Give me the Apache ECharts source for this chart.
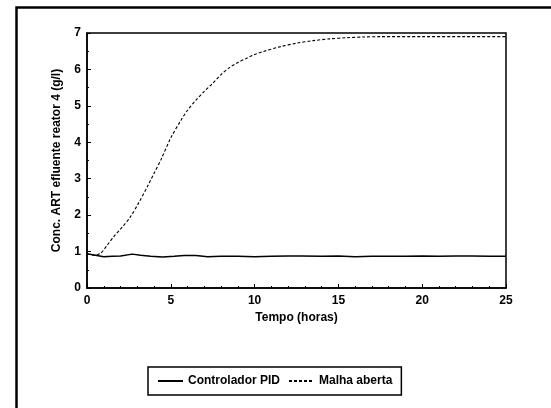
<!DOCTYPE html>
<html>
<head>
<meta charset="utf-8">
<script src="https://cdn.jsdelivr.net/npm/echarts@6/dist/echarts.min.js"></script>
<style>
  html, body { margin: 0; padding: 0; background: #fff; }
  #chart { width: 551px; height: 408px; }
</style>
</head>
<body>
<div id="chart"></div>
<script>
// Time (hours) and effluent ART concentration of reactor 4 (g/l)
const tempoPID = [0, 0.5, 1, 1.5, 2, 2.7, 3.2, 3.8, 4.5, 5.2, 5.8, 6.5, 7.2, 8, 9, 10, 11, 12, 12.8, 14, 15, 16, 17, 18, 19, 20, 21, 22, 23, 24, 25];
const controladorPID = [0.94, 0.9, 0.86, 0.87, 0.88, 0.93, 0.9, 0.87, 0.85, 0.87, 0.89, 0.89, 0.86, 0.87, 0.87, 0.86, 0.87, 0.88, 0.88, 0.87, 0.88, 0.86, 0.87, 0.87, 0.87, 0.88, 0.87, 0.88, 0.88, 0.87, 0.87];

const tempoMA = [0, 0.4, 0.8, 1.2, 1.6, 2.1, 2.6, 3.1, 3.6, 4.0, 4.4, 5.0, 5.6, 6.0, 6.5, 7.0, 7.5, 8.0, 8.5, 9.0, 9.5, 10.0, 10.5, 11.5, 12.5, 13.5, 14.5, 15.5, 16.5, 17.5, 20, 22.5, 25];
const malhaAberta = [0.94, 0.9, 0.95, 1.17, 1.41, 1.67, 1.96, 2.35, 2.78, 3.15, 3.51, 4.12, 4.6, 4.88, 5.16, 5.4, 5.62, 5.86, 6.05, 6.19, 6.3, 6.41, 6.49, 6.62, 6.72, 6.79, 6.84, 6.87, 6.89, 6.9, 6.9, 6.9, 6.9];

const xTicks = { min: 0, max: 25, step: 5 };
const yTicks = { min: 0, max: 7, step: 1 };

const pairs = (xs, ys) => xs.map((x, i) => [x, ys[i]]);

const font = '"Liberation Sans", Arial, sans-serif';
const chart = echarts.init(document.getElementById('chart'), null, { renderer: 'canvas' });

chart.setOption({
  animation: false,
  backgroundColor: '#fff',
  graphic: [{
    type: 'rect',
    left: 14, top: 5,
    shape: { width: 600, height: 500 },
    style: { fill: 'none', stroke: '#000', lineWidth: 2.5 },
    silent: true
  }],
  grid: {
    left: 87, right: 45, top: 33, bottom: 120,
    show: true, borderColor: '#000', borderWidth: 1.5, backgroundColor: 'transparent'
  },
  legend: {
    left: 148, top: 367,
    width: 303, height: 30,
    padding: [8, 9, 8, 9],
    borderColor: '#000', borderWidth: 1.5,
    itemWidth: 25, itemHeight: 10, itemGap: 8,
    itemStyle: { opacity: 0 },
    textStyle: { fontFamily: font, fontWeight: 'bold', fontSize: 12, color: '#000' },
    data: ['Controlador PID', 'Malha aberta']
  },
  xAxis: {
    type: 'value',
    min: xTicks.min, max: xTicks.max, interval: xTicks.step,
    name: 'Tempo (horas)',
    nameLocation: 'middle', nameGap: 24,
    nameTextStyle: { fontFamily: font, fontWeight: 'bold', fontSize: 12, color: '#000' },
    axisLine: { show: true, lineStyle: { color: '#000', width: 1.5 } },
    axisTick: { show: true, inside: true, length: 4, lineStyle: { color: '#000' } },
    minorTick: { show: true, splitNumber: 5, length: 2, lineStyle: { color: '#000' } },
    axisLabel: { margin: 7, fontFamily: font, fontWeight: 'bold', fontSize: 12, color: '#000' },
    splitLine: { show: false }
  },
  yAxis: {
    type: 'value',
    min: yTicks.min, max: yTicks.max, interval: yTicks.step,
    name: 'Conc. ART efluente reator 4 (g/l)',
    nameLocation: 'middle', nameGap: 24, nameRotate: 90,
    nameTextStyle: { fontFamily: font, fontWeight: 'bold', fontSize: 12, color: '#000' },
    axisLine: { show: true, lineStyle: { color: '#000', width: 1.5 } },
    axisTick: { show: true, inside: true, length: 4, lineStyle: { color: '#000' } },
    minorTick: { show: true, splitNumber: 2, length: 2, lineStyle: { color: '#000' } },
    axisLabel: { margin: 6, fontFamily: font, fontWeight: 'bold', fontSize: 12, color: '#000' },
    splitLine: { show: false }
  },
  series: [
    {
      name: 'Controlador PID',
      type: 'line',
      data: pairs(tempoPID, controladorPID),
      showSymbol: false, symbol: 'none',
      lineStyle: { color: '#000', width: 1.5 },
      itemStyle: { color: '#000' }
    },
    {
      name: 'Malha aberta',
      type: 'line',
      smooth: 0.3,
      data: pairs(tempoMA, malhaAberta),
      showSymbol: false, symbol: 'none',
      lineStyle: { color: '#000', width: 1.1, type: [3, 2] },
      itemStyle: { color: '#000' }
    }
  ]
});
</script>
</body>
</html>
